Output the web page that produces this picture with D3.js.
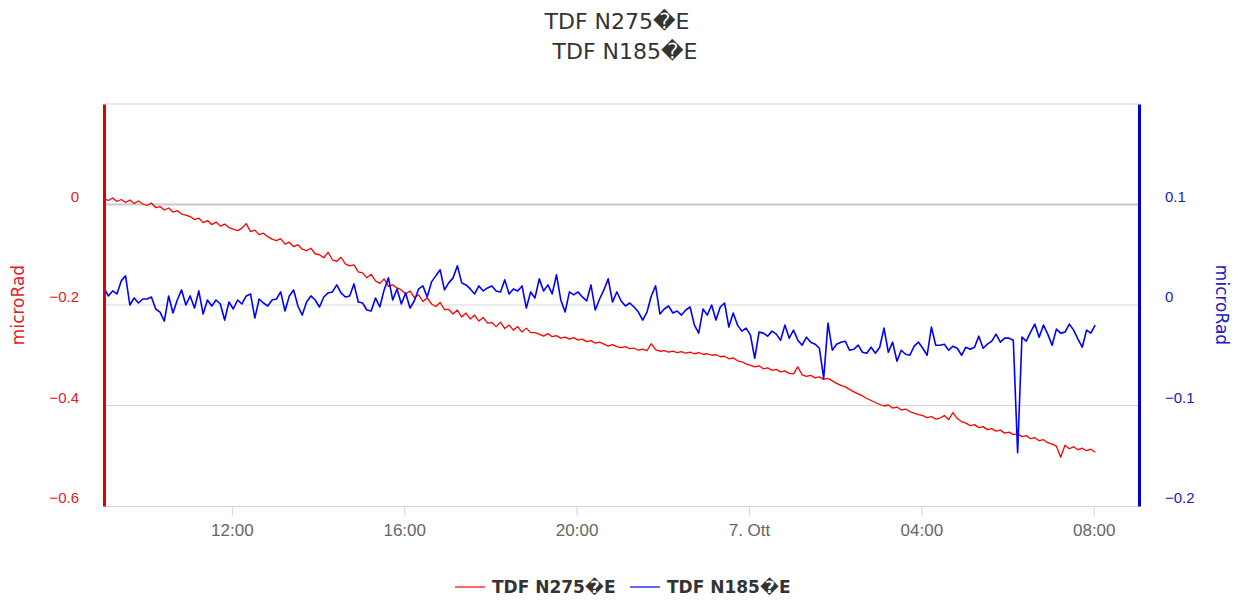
<!DOCTYPE html>
<html>
<head>
<meta charset="utf-8">
<script src="https://cdn.jsdelivr.net/npm/d3@7"></script>
<style>
  body { margin: 0; background: #fff; }
  svg { font-family: "DejaVu Sans", sans-serif; }
</style>
</head>
<body>
<div id="chartArea"></div>
<script>
// series names (the original source carries a broken degree sign)
const seriesNames = ["TDF N275\uFFFDE", "TDF N185\uFFFDE"];

// sampling grid: one reading every 6 minutes from 6 Oct 09:02
const startTime = new Date(2015, 9, 6, 9, 2);
const stepMinutes = 6;
const xDomain = [new Date(2015, 9, 6, 9, 2), new Date(2015, 9, 7, 9, 3)];

// x ticks and their labels
const xTickTimes = [
  new Date(2015, 9, 6, 12), new Date(2015, 9, 6, 16), new Date(2015, 9, 6, 20),
  new Date(2015, 9, 7, 0), new Date(2015, 9, 7, 4), new Date(2015, 9, 7, 8)
];
const xTickLabels = ["12:00", "16:00", "20:00", "7. Ott", "04:00", "08:00"];

// y ticks
const leftTicks = [-0.6, -0.4, -0.2, 0];
const rightTicks = [-0.2, -0.1, 0, 0.1];
const leftDomain = [-0.6, 0.2];
const rightDomain = [-0.2, 0.2];

// TDF N275 (left axis, microRad)
const tdf275 = [
  0.012, 0.008, 0.013, 0.006, 0.010, 0.004, 0.009, 0.002, 0.007, 0.001,
  -0.002, 0.003, -0.006, -0.004, -0.011, -0.007, -0.015, -0.012, -0.019, -0.021,
  -0.024, -0.030, -0.027, -0.036, -0.032, -0.040, -0.035, -0.043, -0.039, -0.046,
  -0.049, -0.052, -0.047, -0.038, -0.054, -0.051, -0.060, -0.057, -0.064, -0.069,
  -0.072, -0.068, -0.079, -0.075, -0.084, -0.080, -0.089, -0.092, -0.087, -0.098,
  -0.100, -0.106, -0.095, -0.110, -0.113, -0.105, -0.118, -0.122, -0.120, -0.134,
  -0.136, -0.146, -0.139, -0.152, -0.157, -0.148, -0.163, -0.160, -0.166, -0.170,
  -0.178, -0.172, -0.185, -0.180, -0.193, -0.186, -0.198, -0.203, -0.195, -0.209,
  -0.209, -0.218, -0.210, -0.224, -0.216, -0.228, -0.220, -0.232, -0.225, -0.236,
  -0.235, -0.243, -0.234, -0.247, -0.240, -0.250, -0.243, -0.254, -0.246, -0.255,
  -0.255, -0.258, -0.262, -0.257, -0.263, -0.261, -0.266, -0.264, -0.268, -0.265,
  -0.270, -0.268, -0.273, -0.271, -0.276, -0.274, -0.278, -0.282, -0.279, -0.283,
  -0.285, -0.283, -0.287, -0.286, -0.290, -0.288, -0.291, -0.277, -0.289, -0.292,
  -0.291, -0.294, -0.292, -0.295, -0.293, -0.296, -0.294, -0.297, -0.295, -0.298,
  -0.297, -0.300, -0.299, -0.303, -0.302, -0.307, -0.305, -0.311, -0.313, -0.317,
  -0.320, -0.323, -0.321, -0.327, -0.325, -0.330, -0.328, -0.333, -0.331, -0.336,
  -0.337, -0.323, -0.339, -0.342, -0.340, -0.345, -0.343, -0.348, -0.346, -0.351,
  -0.356, -0.360, -0.363, -0.368, -0.373, -0.377, -0.381, -0.386, -0.390, -0.394,
  -0.398, -0.401, -0.399, -0.405, -0.403, -0.409, -0.407, -0.412, -0.415, -0.418,
  -0.420, -0.424, -0.422, -0.427, -0.425, -0.420, -0.428, -0.414, -0.426, -0.432,
  -0.435, -0.440, -0.438, -0.444, -0.442, -0.448, -0.446, -0.451, -0.449, -0.455,
  -0.453, -0.458, -0.456, -0.462, -0.460, -0.466, -0.464, -0.470, -0.468, -0.474,
  -0.477, -0.481, -0.503, -0.479, -0.486, -0.482, -0.488, -0.485, -0.490, -0.487,
  -0.493
];

// TDF N185 (right axis, microRad)
const tdf185 = [
  0.017, 0.009, 0.014, 0.011, 0.024, 0.029, 0.000, 0.007, 0.002, 0.006,
  0.006, 0.008, -0.004, -0.007, -0.016, 0.009, -0.008, 0.005, 0.015, 0.000,
  0.009, -0.003, 0.014, -0.009, 0.005, -0.001, 0.005, 0.001, -0.015, 0.003,
  -0.004, 0.005, 0.001, 0.009, 0.011, -0.013, 0.006, 0.002, -0.001, 0.005,
  0.006, 0.013, -0.006, 0.009, 0.015, -0.001, -0.010, 0.003, 0.009, 0.005,
  -0.002, 0.008, 0.012, 0.013, 0.020, 0.012, 0.008, 0.009, 0.021, 0.003,
  0.002, -0.005, -0.006, 0.007, -0.002, 0.015, 0.027, 0.005, 0.016, 0.001,
  0.012, -0.003, 0.004, 0.016, 0.019, 0.008, 0.023, 0.029, 0.035, 0.015,
  0.022, 0.027, 0.039, 0.022, 0.020, 0.016, 0.011, 0.019, 0.014, 0.017,
  0.019, 0.014, 0.013, 0.025, 0.011, 0.016, 0.014, 0.019, -0.003, 0.013,
  0.007, 0.026, 0.014, 0.020, 0.011, 0.030, 0.005, -0.007, 0.013, 0.010,
  0.013, 0.008, 0.004, 0.020, -0.005, 0.006, 0.015, 0.026, 0.003, 0.013,
  0.004, -0.001, 0.002, -0.002, -0.007, -0.015, -0.007, 0.009, 0.019, -0.009,
  -0.004, -0.001, -0.008, -0.006, -0.010, -0.005, -0.002, -0.020, -0.028, -0.004,
  -0.010, 0.000, -0.015, -0.002, 0.002, -0.022, -0.008, -0.020, -0.026, -0.023,
  -0.030, -0.053, -0.027, -0.028, -0.031, -0.026, -0.029, -0.035, -0.020, -0.033,
  -0.025, -0.035, -0.040, -0.032, -0.037, -0.039, -0.043, -0.073, -0.018, -0.045,
  -0.039, -0.037, -0.036, -0.045, -0.044, -0.040, -0.047, -0.048, -0.042, -0.048,
  -0.042, -0.023, -0.047, -0.037, -0.056, -0.045, -0.049, -0.050, -0.041, -0.037,
  -0.043, -0.050, -0.022, -0.040, -0.040, -0.039, -0.045, -0.041, -0.043, -0.050,
  -0.042, -0.044, -0.042, -0.031, -0.043, -0.039, -0.036, -0.029, -0.037, -0.033,
  -0.033, -0.035, -0.147, -0.032, -0.036, -0.027, -0.019, -0.032, -0.020, -0.029,
  -0.040, -0.024, -0.028, -0.027, -0.019, -0.025, -0.034, -0.042, -0.025, -0.028,
  -0.020
];

const w = 1239;
const h = 601;
const margin = {top: 104, right: 100, bottom: 95, left: 104};
const red = "#ff0000";
const blue = "#0000ff";

const svg = d3.select("#chartArea")
    .append("svg")
    .attr("width", w)
    .attr("height", h);

const x = d3.scaleTime()
    .domain(xDomain)
    .range([margin.left, w - margin.right]);

const yLeft = d3.scaleLinear()
    .domain(leftDomain)
    .range([h - margin.bottom, margin.top]);

const yRight = d3.scaleLinear()
    .domain(rightDomain)
    .range([h - margin.bottom, margin.top]);

const timeAt = i => new Date(startTime.getTime() + i * stepMinutes * 60000);

// grid lines (left axis ticks plus the top edge)
const gridVals = [-0.4, -0.2, 0, 0.2];
svg.append("g")
    .selectAll("line")
    .data(gridVals)
    .enter()
    .append("line")
    .attr("x1", margin.left)
    .attr("x2", w - margin.right)
    .attr("y1", d => yLeft(d))
    .attr("y2", d => yLeft(d))
    .attr("stroke", d => d === 0 ? "#c8c8c8" : "#d8d8d8")
    .attr("stroke-width", d => d === 0 ? 2 : 1);

// x axis
const xAxis = d3.axisBottom(x)
    .tickValues(xTickTimes)
    .tickFormat((d, i) => xTickLabels[i])
    .tickSize(10)
    .tickSizeOuter(0)
    .tickPadding(8);

const gx = svg.append("g")
    .attr("transform", `translate(0,${h - margin.bottom})`)
    .call(xAxis);
gx.select(".domain").attr("stroke", "#ccd6eb");
gx.selectAll(".tick line").attr("stroke", "#ccd6eb");
gx.selectAll(".tick text")
    .attr("fill", "#666")
    .style("font-size", "17px");

// series lines
const lineLeft = d3.line()
    .x((d, i) => x(timeAt(i)))
    .y(d => yLeft(d));

const lineRight = d3.line()
    .x((d, i) => x(timeAt(i)))
    .y(d => yRight(d));

svg.append("path")
    .datum(tdf275)
    .attr("fill", "none")
    .attr("stroke", red)
    .attr("stroke-width", 1.3)
    .attr("stroke-linejoin", "round")
    .attr("d", lineLeft);

svg.append("path")
    .datum(tdf185)
    .attr("fill", "none")
    .attr("stroke", blue)
    .attr("stroke-width", 1.6)
    .attr("stroke-linejoin", "round")
    .attr("d", lineRight);

// left y axis
const gl = svg.append("g")
    .attr("transform", `translate(${margin.left},0)`)
    .call(d3.axisLeft(yLeft)
        .tickValues(leftTicks)
        .tickFormat(d => d === 0 ? "0" : d3.format(".1f")(d))
        .tickSize(0)
        .tickSizeOuter(0)
        .tickPadding(25));
gl.select(".domain").attr("stroke", "#dd0000").attr("stroke-width", 3);
gl.selectAll(".tick text")
    .attr("y", -8)
    .attr("fill", "#e0202a")
    .style("font-size", "15px");

// right y axis
const gr = svg.append("g")
    .attr("transform", `translate(${w - margin.right},0)`)
    .call(d3.axisRight(yRight)
        .tickValues(rightTicks)
        .tickFormat(d => d === 0 ? "0" : d3.format(".1f")(d))
        .tickSize(0)
        .tickSizeOuter(0)
        .tickPadding(26));
gr.select(".domain").attr("stroke", "#0000cc").attr("stroke-width", 3);
gr.selectAll(".tick text")
    .attr("y", -8)
    .attr("fill", "#2020c0")
    .style("font-size", "15px");

// axis titles
svg.append("text")
    .attr("transform", `translate(24,${(margin.top + h - margin.bottom) / 2}) rotate(-90)`)
    .attr("text-anchor", "middle")
    .attr("fill", "#e0202a")
    .style("font-size", "17px")
    .text("microRad");

svg.append("text")
    .attr("transform", `translate(1216,${(margin.top + h - margin.bottom) / 2}) rotate(90)`)
    .attr("text-anchor", "middle")
    .attr("fill", "#2020c0")
    .style("font-size", "17px")
    .text("microRad");

// title
svg.append("text")
    .attr("x", 617)
    .attr("y", 29)
    .attr("text-anchor", "middle")
    .attr("fill", "#333")
    .style("font-size", "22px")
    .text(seriesNames[0]);

svg.append("text")
    .attr("x", 625)
    .attr("y", 59)
    .attr("text-anchor", "middle")
    .attr("fill", "#333")
    .style("font-size", "22px")
    .text(seriesNames[1]);

// legend
const legendItems = [
    {name: seriesNames[0], color: red, x: 455},
    {name: seriesNames[1], color: blue, x: 630}
];
const legend = svg.append("g");
legendItems.forEach(item => {
    legend.append("line")
        .attr("x1", item.x)
        .attr("x2", item.x + 30)
        .attr("y1", 587)
        .attr("y2", 587)
        .attr("stroke", item.color)
        .attr("stroke-opacity", 0.6)
        .attr("stroke-width", 2);
    legend.append("text")
        .attr("x", item.x + 37)
        .attr("y", 593)
        .attr("fill", "#333")
        .attr("font-weight", "bold")
        .style("font-size", "17px")
        .text(item.name);
});
</script>
</body>
</html>
